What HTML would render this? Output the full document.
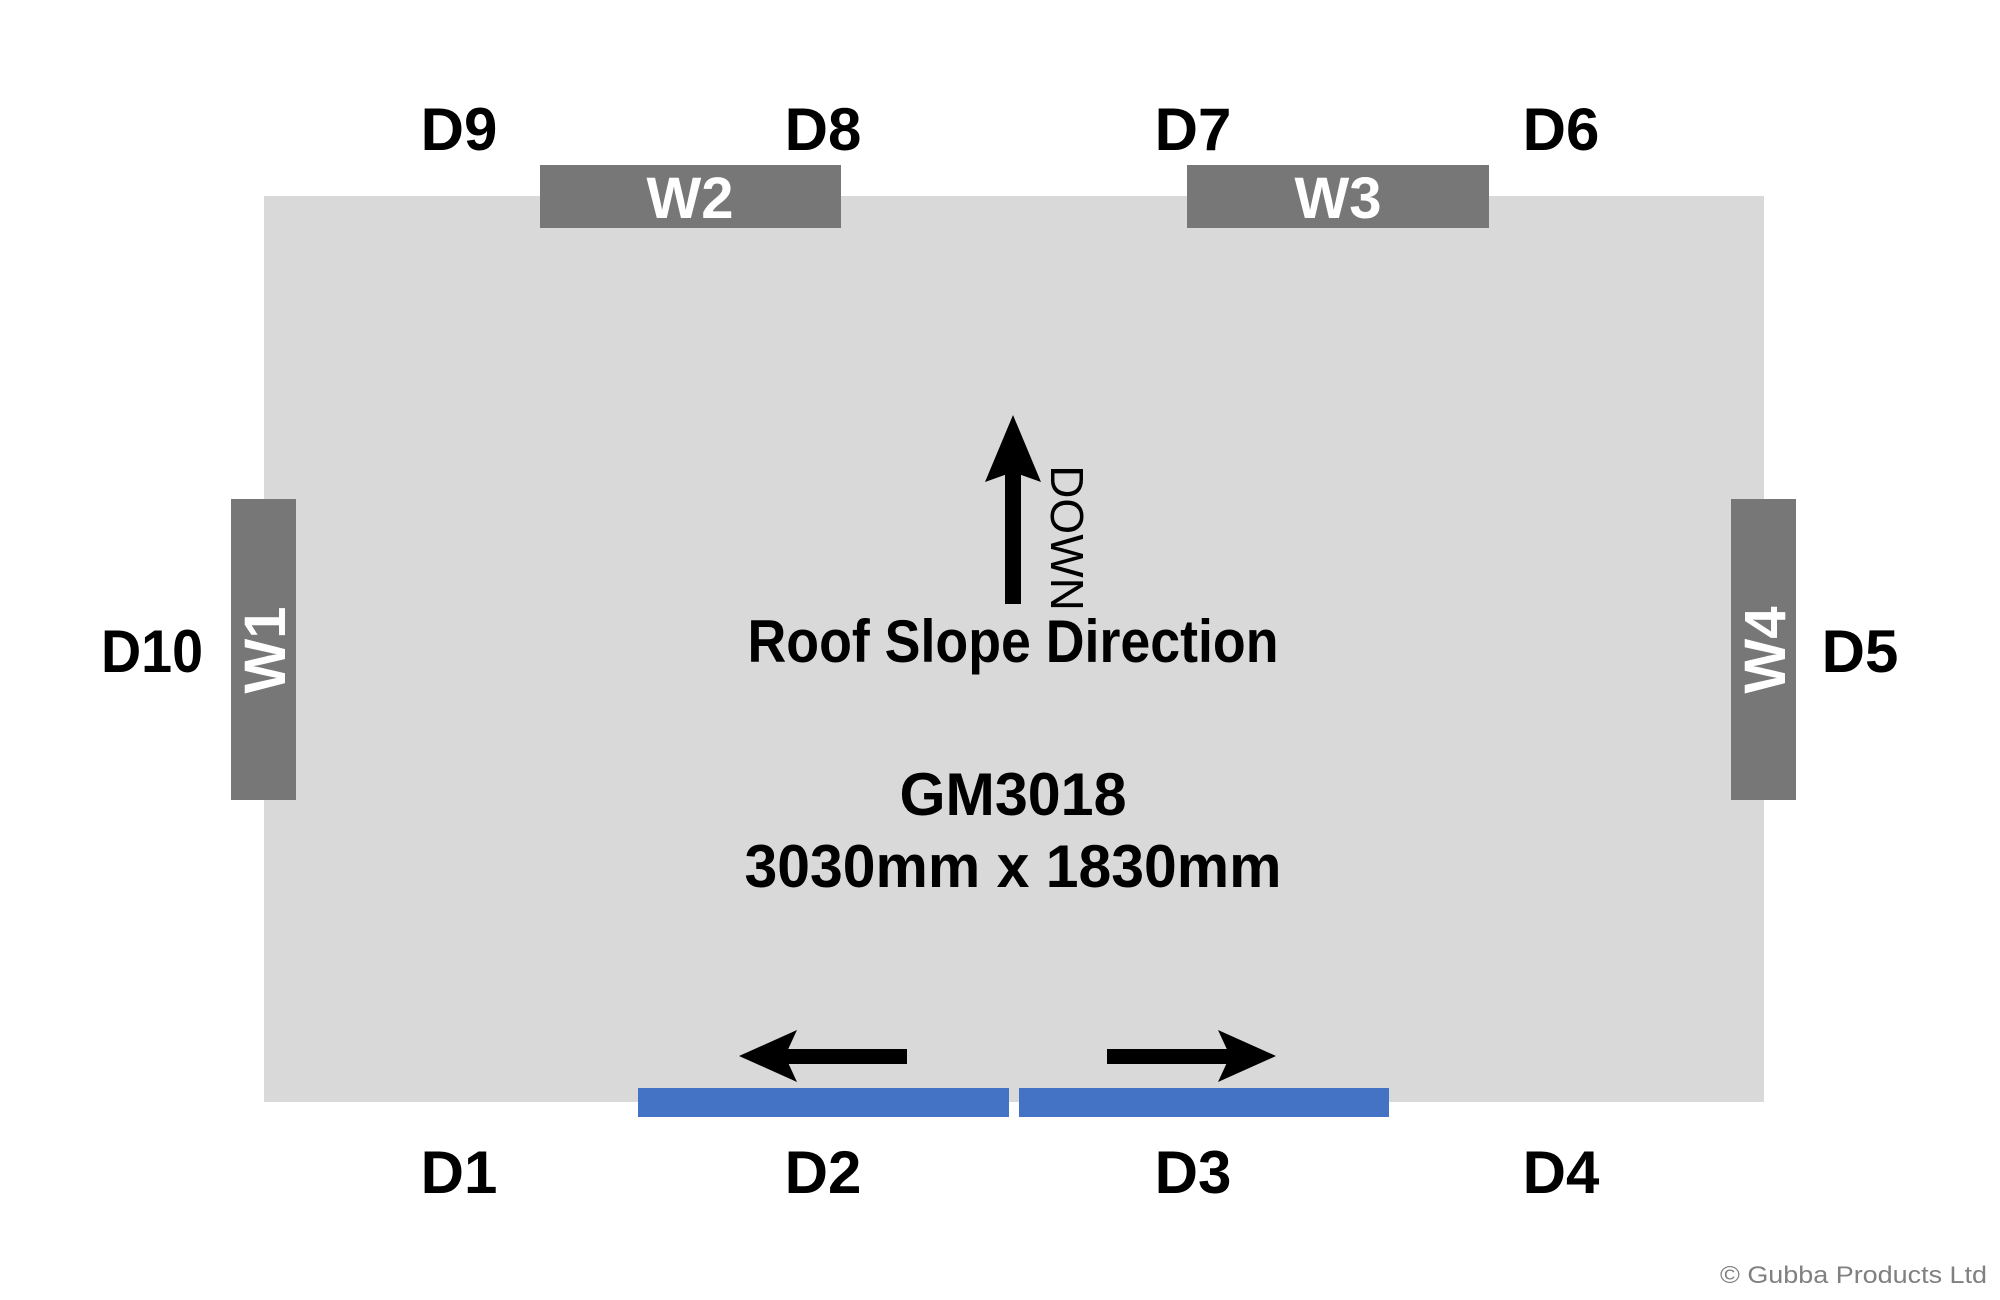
<!DOCTYPE html>
<html><head><meta charset="utf-8"><style>
html,body{margin:0;padding:0;background:#fff;}
svg{display:block;}
text{font-family:"Liberation Sans",sans-serif;}
</style></head><body>
<svg width="2000" height="1300" viewBox="0 0 2000 1300" xmlns="http://www.w3.org/2000/svg">
<rect x="264" y="196" width="1500" height="906" fill="#d9d9d9"/>
<rect x="540" y="165" width="301" height="63" fill="#777"/>
<rect x="1187" y="165" width="302" height="63" fill="#777"/>
<rect x="231" y="499" width="65" height="301" fill="#777"/>
<rect x="1731" y="499" width="65" height="301" fill="#777"/>
<rect x="638" y="1088" width="371" height="29" fill="#4472c4"/>
<rect x="1019" y="1088" width="370" height="29" fill="#4472c4"/>
<rect x="1005" y="470" width="16" height="134" fill="#000"/>
<polygon points="1013,415 1041,482 1013,472 985,482" fill="#000"/>
<rect x="780" y="1049" width="127" height="15" fill="#000"/>
<polygon points="739,1056 797,1030 785,1056 797,1082" fill="#000"/>
<rect x="1107" y="1049" width="127" height="15" fill="#000"/>
<polygon points="1276,1056 1218,1030 1230,1056 1218,1082" fill="#000"/>
<g font-weight="bold" font-size="60" text-anchor="middle" fill="#000">
<text x="459" y="150">D9</text>
<text x="823" y="150">D8</text>
<text x="1193" y="150">D7</text>
<text x="1561" y="150">D6</text>
<text x="459" y="1193">D1</text>
<text x="823" y="1193">D2</text>
<text x="1193" y="1193">D3</text>
<text x="1561" y="1193">D4</text>
<text x="152" y="672" textLength="102" lengthAdjust="spacingAndGlyphs">D10</text>
<text x="1860" y="672">D5</text>
</g>
<g font-weight="bold" font-size="58" text-anchor="middle" fill="#fff">
<text x="690" y="218">W2</text>
<text x="1338" y="218">W3</text>
<text transform="translate(285,650) rotate(-90)">W1</text>
<text transform="translate(1785,650) rotate(-90)">W4</text>
</g>
<text transform="translate(1051,538) rotate(90)" font-size="46" text-anchor="middle" fill="#000">DOWN</text>
<g font-weight="bold" text-anchor="middle" fill="#000">
<text x="1013" y="662" font-size="60" textLength="531" lengthAdjust="spacingAndGlyphs">Roof Slope Direction</text>
<text x="1013" y="815" font-size="60" textLength="227" lengthAdjust="spacingAndGlyphs">GM3018</text>
<text x="1013" y="887" font-size="60" textLength="537" lengthAdjust="spacingAndGlyphs">3030mm x 1830mm</text>
</g>
<text x="1987" y="1283" font-size="24" text-anchor="end" fill="#808080" textLength="267" lengthAdjust="spacingAndGlyphs">© Gubba Products Ltd</text>
</svg>
</body></html>
